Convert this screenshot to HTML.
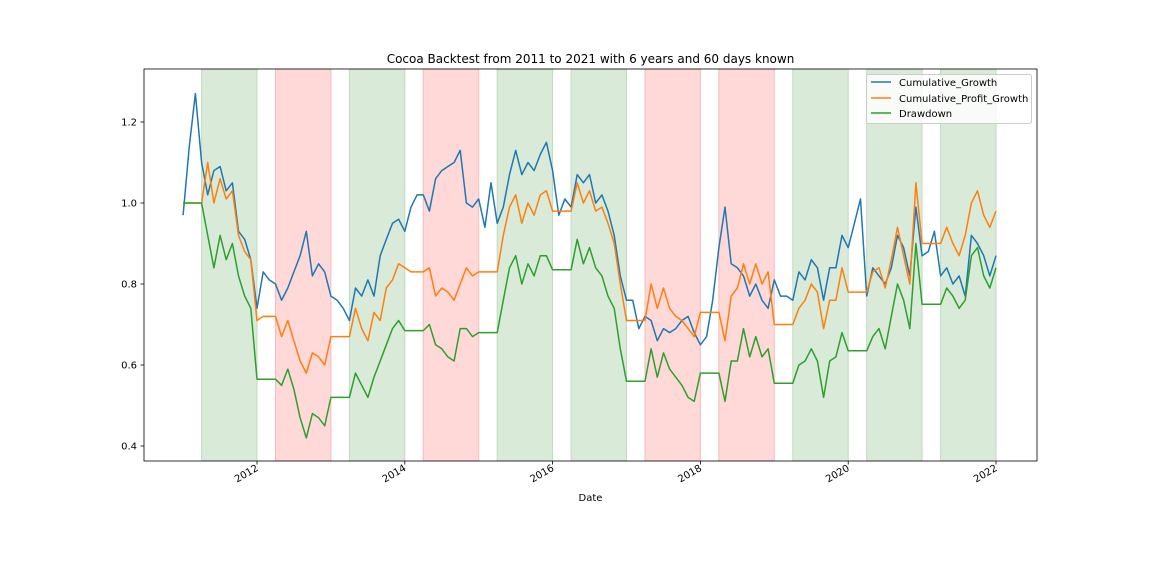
<!DOCTYPE html>
<html><head><meta charset="utf-8"><style>
body{margin:0;background:#fff;}
svg{display:block;font-family:"DejaVu Sans","Liberation Sans",sans-serif;}
</style></head><body>
<svg id="chart" width="1152" height="576" viewBox="0 0 1152 576" xmlns="http://www.w3.org/2000/svg">
<rect width="1152" height="576" fill="#fff"/>
<g id="bands"></g>
<g id="series"></g>
<rect x="144" y="69" width="893" height="392" fill="none" stroke="#000" stroke-width="0.8"/>
<g id="yaxis"></g>
<g id="xaxis"></g>
<text x="590.5" y="63" font-size="12" text-anchor="middle">Cocoa Backtest from 2011 to 2021 with 6 years and 60 days known</text>
<text x="590.5" y="501" font-size="10" text-anchor="middle">Date</text>
<g>
<rect x="866.5" y="74.5" width="165" height="49" rx="2" fill="#fff" fill-opacity="0.8" stroke="#ccc"/>
<line x1="871" y1="82" x2="891" y2="82" stroke="#1f77b4" stroke-width="1.5"/>
<text x="899" y="86" font-size="10">Cumulative_Growth</text>
<line x1="871" y1="98" x2="891" y2="98" stroke="#ff7f0e" stroke-width="1.5"/>
<text x="899" y="102" font-size="10">Cumulative_Profit_Growth</text>
<line x1="871" y1="113" x2="891" y2="113" stroke="#2ca02c" stroke-width="1.5"/>
<text x="899" y="117" font-size="10">Drawdown</text>
</g>
</svg>
<script>
const startYear = 2011;
const stepYears = 1/12;
const growth = [0.97,1.14,1.27,1.10,1.02,1.08,1.09,1.03,1.05,0.93,0.91,0.86,
0.74,0.83,0.81,0.80,0.76,0.79,0.83,0.87,0.93,0.82,0.85,0.83,
0.77,0.76,0.74,0.71,0.79,0.77,0.81,0.77,0.87,0.91,0.95,0.96,
0.93,0.99,1.02,1.02,0.98,1.06,1.08,1.09,1.10,1.13,1.00,0.99,
1.01,0.94,1.05,0.95,0.99,1.07,1.13,1.07,1.10,1.08,1.12,1.15,
1.08,0.97,1.01,0.99,1.07,1.05,1.07,1.00,1.02,0.98,0.92,0.82,
0.76,0.76,0.69,0.72,0.71,0.66,0.69,0.68,0.69,0.71,0.72,0.68,
0.65,0.67,0.76,0.89,0.99,0.85,0.84,0.82,0.77,0.80,0.76,0.74,
0.81,0.77,0.77,0.76,0.83,0.81,0.86,0.84,0.76,0.84,0.84,0.92,
0.89,0.95,1.01,0.77,0.84,0.82,0.80,0.84,0.92,0.89,0.82,0.99,
0.87,0.88,0.93,0.82,0.84,0.80,0.82,0.77,0.92,0.90,0.87,0.82,0.87];
const profit = [1.00,1.00,1.00,1.00,1.10,1.00,1.06,1.01,1.03,0.92,0.88,0.86,
0.71,0.72,0.72,0.72,0.67,0.71,0.66,0.61,0.58,0.63,0.62,0.60,
0.67,0.67,0.67,0.67,0.74,0.69,0.66,0.73,0.71,0.79,0.81,0.85,
0.84,0.83,0.83,0.83,0.84,0.77,0.79,0.78,0.76,0.80,0.84,0.82,
0.83,0.83,0.83,0.83,0.92,0.99,1.02,0.95,1.00,0.97,1.02,1.03,
0.98,0.98,0.98,0.98,1.05,1.00,1.03,0.98,0.99,0.95,0.90,0.80,
0.71,0.71,0.71,0.71,0.80,0.74,0.79,0.74,0.72,0.71,0.69,0.67,
0.73,0.73,0.73,0.73,0.66,0.77,0.79,0.85,0.80,0.85,0.80,0.83,
0.70,0.70,0.70,0.70,0.74,0.76,0.80,0.78,0.69,0.76,0.76,0.84,
0.78,0.78,0.78,0.78,0.83,0.84,0.79,0.86,0.94,0.87,0.80,1.05,
0.90,0.90,0.90,0.90,0.94,0.90,0.87,0.92,1.00,1.03,0.97,0.94,0.98];
const drawdown = [1.00,1.00,1.00,1.00,0.92,0.84,0.92,0.86,0.90,0.82,0.77,0.74,
0.565,0.565,0.565,0.565,0.55,0.59,0.54,0.47,0.42,0.48,0.47,0.45,
0.52,0.52,0.52,0.52,0.58,0.55,0.52,0.57,0.61,0.65,0.69,0.71,
0.685,0.685,0.685,0.685,0.70,0.65,0.64,0.62,0.61,0.69,0.69,0.67,
0.68,0.68,0.68,0.68,0.76,0.84,0.87,0.80,0.85,0.82,0.87,0.87,
0.835,0.835,0.835,0.835,0.91,0.85,0.89,0.84,0.82,0.77,0.74,0.64,
0.56,0.56,0.56,0.56,0.64,0.57,0.63,0.59,0.57,0.55,0.52,0.51,
0.58,0.58,0.58,0.58,0.51,0.61,0.61,0.69,0.62,0.67,0.62,0.64,
0.555,0.555,0.555,0.555,0.60,0.61,0.64,0.61,0.52,0.61,0.62,0.68,
0.635,0.635,0.635,0.635,0.67,0.69,0.64,0.72,0.80,0.76,0.69,0.90,
0.75,0.75,0.75,0.75,0.79,0.77,0.74,0.76,0.87,0.89,0.82,0.79,0.84];
const bandStarts = [2011.25,2012.25,2013.25,2014.25,2015.25,2016.25,2017.25,2018.25,2019.25,2020.25,2021.25];
const bandEnds = [2012,2013,2014,2015,2016,2017,2018,2019,2020,2021,2022];
const bandKinds = ["gain","loss","gain","loss","gain","gain","loss","loss","gain","gain","gain"];
const yTicks = [0.4,0.6,0.8,1.0,1.2];
const yTickLabels = ["0.4","0.6","0.8","1.0","1.2"];
const xTicks = [2012,2014,2016,2018,2020,2022];
const xTickLabels = ["2012","2014","2016","2018","2020","2022"];

const NS = "http://www.w3.org/2000/svg";
const xs = yr => 257 + (yr - 2012) * 73.9;
const ys = v => 446 - (v - 0.4) * 405;
function mk(tag, attrs, parent){const e=document.createElementNS(NS,tag);for(const k in attrs)e.setAttribute(k,attrs[k]);parent.appendChild(e);return e;}

const bands = document.getElementById('bands');
bandStarts.forEach((s,i)=>{
  const gain = bandKinds[i]==="gain";
  const r = mk('rect',{x:xs(s),y:69,width:xs(bandEnds[i])-xs(s),height:392,
    fill:gain?'#d9ead8':'#ffd8d8',stroke:gain?'#bfdcbe':'#f6bcbc','stroke-width':1},bands);
  
  
});

const series = document.getElementById('series');
[[growth,'#1f77b4','cumulative-growth-line'],[profit,'#ff7f0e','cumulative-profit-growth-line'],[drawdown,'#2ca02c','drawdown-line']].forEach(([arr,col,name])=>{
  const pts = arr.map((v,i)=>xs(startYear+i*stepYears).toFixed(1)+','+ys(v).toFixed(1)).join(' ');
  const p = mk('polyline',{points:pts,fill:'none',stroke:col,'stroke-width':1.5,'stroke-linejoin':'round'},series);
  
  
});

const yaxis = document.getElementById('yaxis');
yTicks.forEach((v,i)=>{
  const t = mk('line',{x1:140.5,x2:144,y1:ys(v),y2:ys(v),stroke:'#000','stroke-width':0.8},yaxis);
  
  
  const l = mk('text',{x:137,y:ys(v)+3.5,'font-size':10,'text-anchor':'end'},yaxis);
  l.textContent = yTickLabels[i];
  
  
});
const xaxis = document.getElementById('xaxis');
xTicks.forEach((yr,i)=>{
  const x = xs(yr);
  const t = mk('line',{x1:x,x2:x,y1:461,y2:464.5,stroke:'#000','stroke-width':0.8},xaxis);
  
  
  const l = mk('text',{x:x+2,y:470,'font-size':10,'text-anchor':'end',transform:'rotate(-30 '+(x+2)+' 470)'},xaxis);
  l.textContent = xTickLabels[i];
  
  
});
</script>
</body></html>
